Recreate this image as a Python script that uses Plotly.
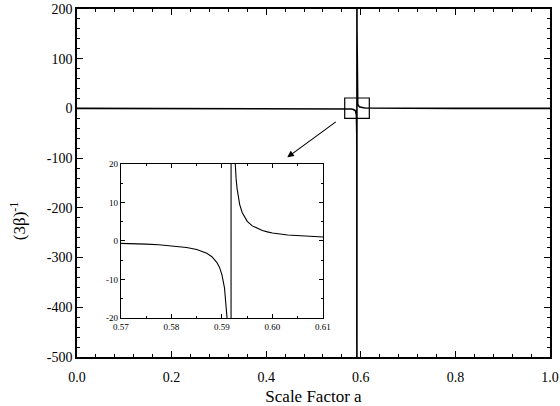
import plotly.graph_objects as go

# Data: (3 beta)^-1 versus scale factor a
a_vals = [0.0, 0.1, 0.2, 0.3, 0.4, 0.5, 0.55, 0.56, 0.565, 0.57, 0.575, 0.5775, 0.58, 0.583, 0.585,
          0.587, 0.588, 0.589, 0.5895, 0.590, 0.5905, 0.5908, 0.591, 0.5913, 0.5915, 0.5916,
          0.5917, 0.59175, 0.59178,
          0.59182, 0.59185, 0.5919, 0.5920, 0.5921, 0.5923, 0.5925, 0.5926, 0.5928, 0.593,
          0.5932, 0.5935, 0.594, 0.595, 0.596, 0.597, 0.598, 0.599, 0.600, 0.603, 0.606, 0.61,
          0.65, 0.70, 0.80, 0.90, 1.00]
inv3beta = [0.10, 0.10, 0.09, 0.08, 0.05, -0.04, -0.25, -0.37, -0.47, -0.60, -0.82, -1.0, -1.23, -1.69, -2.2,
            -3.2, -4.1, -5.6, -6.8, -8.8, -12.2, -15.9, -19.9, -31.9, -53.0, -80.0,
            -160.0, -320.0, -800.0,
            800.0, 320.0, 160.0, 80.0, 53.0, 32.0, 23.0, 20.1, 16.1, 13.5,
            11.6, 9.5, 7.4, 5.1, 3.9, 3.2, 2.7, 2.35, 2.08, 1.56, 1.26, 1.01,
            0.40, 0.28, 0.20, 0.18, 0.17]

main_xticks = [0.0, 0.2, 0.4, 0.6, 0.8, 1.0]
main_yticks = [-500, -400, -300, -200, -100, 0, 100, 200]
inset_xticks = [0.57, 0.58, 0.59, 0.60, 0.61]
inset_yticks = [-20, -10, 0, 10, 20]

FONT = "Liberation Serif"

fig = go.Figure()
fig.add_trace(go.Scatter(x=a_vals, y=inv3beta, mode="lines",
                         line=dict(color="black", width=1.6),
                         xaxis="x", yaxis="y", showlegend=False, cliponaxis=True))
fig.add_trace(go.Scatter(x=a_vals, y=inv3beta, mode="lines",
                         line=dict(color="black", width=1.1),
                         xaxis="x2", yaxis="y2", showlegend=False))

axis_common = dict(showgrid=False, zeroline=False, showline=True, linecolor="black",
                   ticks="inside", mirror="allticks", tickcolor="black", automargin=False)

fig.update_layout(
    width=560, height=406,
    margin=dict(l=77, r=10, t=9, b=49, autoexpand=False),
    plot_bgcolor="white", paper_bgcolor="white",
    font=dict(family=FONT, color="black", size=14),
    xaxis=dict(range=[0, 1], tickvals=main_xticks,
               ticktext=[f"{v:.1f}" for v in main_xticks],
               linewidth=1.5, ticklen=6, tickwidth=1.2, ticklabelstandoff=6,
               minor=dict(dtick=0.04, ticklen=3, tickcolor="black", ticks="inside"),
               title=dict(text="Scale Factor a", font=dict(size=17, family=FONT), standoff=14),
               tickfont=dict(size=14, family=FONT), **axis_common),
    yaxis=dict(range=[-500, 200], tickvals=main_yticks,
               ticktext=[str(v) for v in main_yticks],
               linewidth=1.5, ticklen=6, tickwidth=1.2,
               minor=dict(dtick=20, ticklen=3, tickcolor="black", ticks="inside"),
               tickfont=dict(size=14, family=FONT), **axis_common),
    xaxis2=dict(domain=[0.093, 0.520], anchor="y2", range=[0.57, 0.61],
                tickvals=inset_xticks, ticktext=[f"{v:.2f}" for v in inset_xticks],
                linewidth=1.2, ticklen=4, tickwidth=1,
                minor=dict(dtick=0.005, ticklen=2, tickcolor="black", ticks="inside"),
                tickfont=dict(size=9, family=FONT), ticklabelstandoff=0, **axis_common),
    yaxis2=dict(domain=[0.112, 0.555], anchor="x2", range=[-20, 20],
                tickvals=inset_yticks, ticktext=[str(v) for v in inset_yticks],
                linewidth=1.2, ticklen=4, tickwidth=1,
                minor=dict(dtick=5, ticklen=2, tickcolor="black", ticks="inside"),
                tickfont=dict(size=9, family=FONT), **axis_common),
)

# white background for inset
fig.add_shape(type="rect", xref="x2 domain", yref="y2 domain", x0=0, x1=1, y0=0, y1=1,
              fillcolor="white", line=dict(width=0), layer="below")
# zoom box in main plot
fig.add_shape(type="rect", xref="x", yref="y", x0=0.566, x1=0.618, y0=-20, y1=21,
              line=dict(color="black", width=1.2))
# arrow from box to inset
fig.add_annotation(x=0.4446, y=-98.4, xref="x", yref="y", ax=52, ay=-38,
                   axref="pixel", ayref="pixel", showarrow=True, arrowhead=2,
                   arrowsize=1.2, arrowwidth=1.1, arrowcolor="black", text=" ")
# y-axis title
fig.add_annotation(text="(3β)<sup>-1</sup>", xref="paper", yref="paper",
                   x=-0.125, y=0.39, showarrow=False, textangle=-90,
                   font=dict(size=17, family=FONT), xanchor="center", yanchor="middle")

fig.write_html("out.html")
